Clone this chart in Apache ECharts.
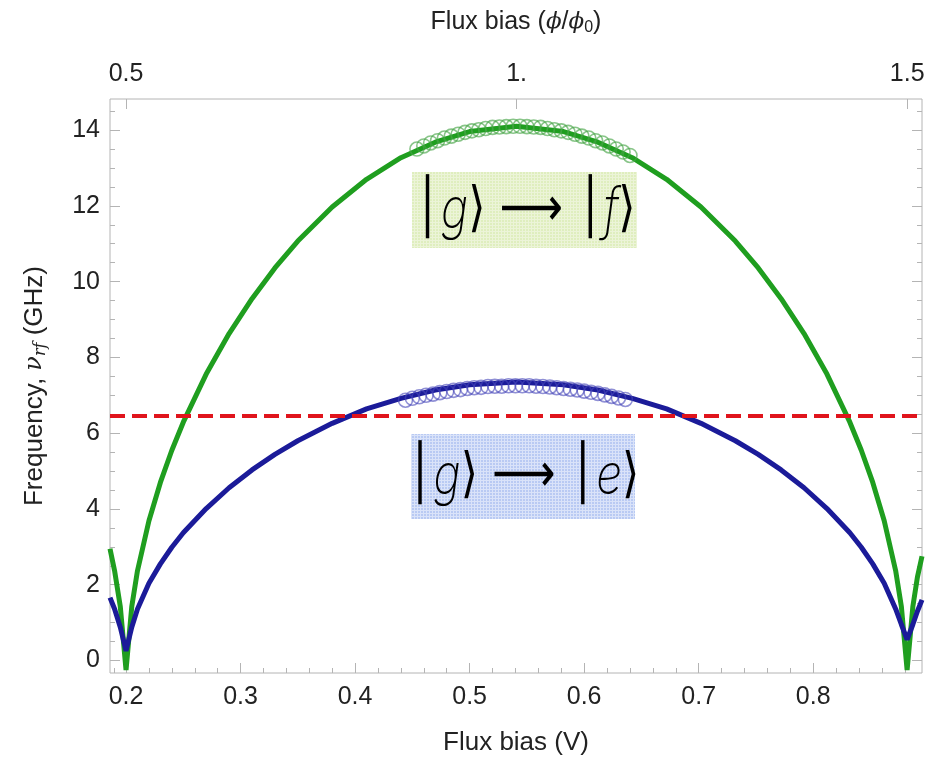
<!DOCTYPE html>
<html>
<head>
<meta charset="utf-8">
<script src="https://cdn.jsdelivr.net/npm/echarts@6/dist/echarts.min.js"></script>
<style>
  html, body { margin: 0; padding: 0; background: #fff; }
  #chart { width: 942px; height: 762px; }
</style>
</head>
<body>
<div id="chart"></div>
<script>
// flux bias (V) sample points for the two model curves
const fluxV = [0.186, 0.19, 0.195, 0.2, 0.205, 0.21, 0.22, 0.23, 0.24, 0.25, 0.27, 0.29, 0.31, 0.33, 0.35,
  0.38, 0.41, 0.44, 0.47, 0.50, 0.541, 0.582, 0.612, 0.642, 0.672, 0.702, 0.732, 0.752, 0.772, 0.792,
  0.812, 0.832, 0.842, 0.852, 0.862, 0.872, 0.877, 0.882, 0.887, 0.891, 0.895];
// |g> -> |f> (GHz)
const gfCurve = [2.95, 2.37, 1.42, -0.25, 1.42, 2.37, 3.69, 4.70, 5.55, 6.29, 7.56, 8.63, 9.55, 10.36, 11.07,
  11.97, 12.70, 13.27, 13.68, 13.96, 14.10, 13.96, 13.68, 13.27, 12.70, 11.97, 11.07, 10.36, 9.55, 8.63,
  7.56, 6.29, 5.55, 4.70, 3.69, 2.37, 1.42, -0.25, 1.42, 2.2, 2.75];
// |g> -> |e> (GHz)
const geCurve = [1.66, 1.36, 0.88, 0.25, 0.88, 1.36, 2.04, 2.55, 2.99, 3.37, 4.01, 4.56, 5.03, 5.44, 5.80,
  6.26, 6.64, 6.92, 7.14, 7.28, 7.35, 7.28, 7.14, 6.92, 6.64, 6.26, 5.80, 5.44, 5.03, 4.56,
  4.01, 3.37, 2.99, 2.55, 2.04, 1.36, 0.95, 0.55, 0.95, 1.3, 1.6];

// measured points (open circles)
const gfMeasV = [0.454, 0.460, 0.466, 0.472, 0.478, 0.484, 0.490, 0.496, 0.502, 0.508, 0.514, 0.520, 0.526,
  0.532, 0.538, 0.544, 0.550, 0.556, 0.562, 0.568, 0.574, 0.580, 0.586, 0.592, 0.598, 0.604, 0.610,
  0.616, 0.622, 0.628, 0.634, 0.640];
const gfMeas = [13.50, 13.58, 13.66, 13.72, 13.79, 13.84, 13.89, 13.94, 13.98, 14.01, 14.04, 14.07, 14.08,
  14.09, 14.10, 14.10, 14.09, 14.08, 14.07, 14.04, 14.01, 13.98, 13.94, 13.89, 13.84, 13.79, 13.72,
  13.66, 13.58, 13.50, 13.42, 13.33];
const geMeasV = [0.444, 0.450, 0.456, 0.462, 0.468, 0.474, 0.480, 0.486, 0.492, 0.498, 0.504, 0.510, 0.516,
  0.522, 0.528, 0.534, 0.540, 0.546, 0.552, 0.558, 0.564, 0.570, 0.576, 0.582, 0.588, 0.594, 0.600,
  0.606, 0.612, 0.618, 0.624, 0.630, 0.636];
const geMeas = [6.87, 6.92, 6.96, 7.00, 7.03, 7.07, 7.10, 7.13, 7.15, 7.18, 7.20, 7.21, 7.23,
  7.24, 7.24, 7.25, 7.25, 7.25, 7.25, 7.24, 7.23, 7.22, 7.20, 7.18, 7.16, 7.14, 7.11,
  7.08, 7.05, 7.01, 6.97, 6.93, 6.89];

const drivePumpGHz = 6.45;

// axis ticks
const xMajor = [0.2, 0.3, 0.4, 0.5, 0.6, 0.7, 0.8];
const xMinor = [0.19, 0.22, 0.24, 0.26, 0.28, 0.32, 0.34, 0.36, 0.38, 0.42, 0.44, 0.46, 0.48, 0.52, 0.54, 0.56,
  0.58, 0.62, 0.64, 0.66, 0.68, 0.72, 0.74, 0.76, 0.78, 0.82, 0.84, 0.86, 0.88];
const phiMajor = [0.5, 1, 1.5];
const yMajor = [0, 2, 4, 6, 8, 10, 12, 14];
const yMinor = [0.5, 1, 1.5, 2.5, 3, 3.5, 4.5, 5, 5.5, 6.5, 7, 7.5, 8.5, 9, 9.5, 10.5, 11, 11.5,
  12.5, 13, 13.5, 14.5];

const X_MIN = 0.186, X_MAX = 0.895;
const PHI_MIN = 0.4795, PHI_MAX = 1.519;
const Y_MIN = -0.33, Y_MAX = 14.82;

const FRAME = '#b4b4b4';
const FONT = 'Liberation Sans';

const pair = (xs, ys) => xs.map((x, i) => [x, ys[i]]);

function pattern(base, line) {
  const c = document.createElement('canvas');
  c.width = 3; c.height = 3;
  const g = c.getContext('2d');
  g.fillStyle = base; g.fillRect(0, 0, 3, 3);
  g.fillStyle = line; g.fillRect(0, 0, 3, 1); g.fillRect(0, 0, 1, 3);
  return { image: c, repeat: 'repeat' };
}

const tickAxis = (pos, min, max, values, len, extra) => Object.assign({
  type: 'value', position: pos, min: min, max: max,
  axisLine: { show: false, onZero: false },
  splitLine: { show: false },
  axisTick: { show: true, inside: true, length: len, customValues: values, lineStyle: { color: FRAME, width: 1 } },
  axisLabel: { show: false }
}, extra || {});

const chart = echarts.init(document.getElementById('chart'));

// ket labels: thin glyphs, brackets from DejaVu
const ketRich = {
  n: { fontFamily: 'DejaVu Sans', fontSize: 54, color: '#333' },
  it: { fontFamily: 'Inter', fontSize: 56, fontStyle: 'italic', fontWeight: 200, color: '#111' }
};

chart.setOption({
  animation: false,
  backgroundColor: '#fff',
  grid: { left: 110, right: 20, top: 99, bottom: 89, show: true, borderColor: FRAME, borderWidth: 1 },
  xAxis: [
    tickAxis('bottom', X_MIN, X_MAX, xMajor, 10, {
      axisLabel: { show: true, customValues: xMajor, margin: 12, fontFamily: FONT, fontSize: 25, color: '#222' },
      name: 'Flux bias (V)', nameLocation: 'middle', nameGap: 57,
      nameTextStyle: { fontFamily: FONT, fontSize: 26, color: '#222' }
    }),
    tickAxis('top', PHI_MIN, PHI_MAX, phiMajor, 10, {
      axisLabel: {
        show: true, customValues: phiMajor, margin: 12, fontFamily: FONT, fontSize: 25, color: '#222',
        formatter: v => (v === 1 ? '1.' : String(v))
      },
      name: '{a|Flux bias (}{i|ϕ}{a|/}{i|ϕ}{s|0}{a|)}', nameLocation: 'middle', nameGap: 62,
      nameTextStyle: {
        rich: {
          a: { fontFamily: FONT, fontSize: 25, color: '#222', lineHeight: 30 },
          i: { fontFamily: 'DejaVu Serif', fontStyle: 'italic', fontSize: 23, color: '#222', lineHeight: 30 },
          s: { fontFamily: FONT, fontSize: 16, color: '#222', lineHeight: 30, padding: [12, 0, 0, 0] }
        }
      }
    }),
    tickAxis('bottom', X_MIN, X_MAX, xMinor, 5)
  ],
  yAxis: [
    tickAxis('left', Y_MIN, Y_MAX, yMajor, 10, {
      axisLabel: { show: true, customValues: yMajor, margin: 10, fontFamily: FONT, fontSize: 25, color: '#222' },
      name: '{a|Frequency, }{i|ν}{s|rf}{a| (GHz)}', nameLocation: 'middle', nameGap: 60,
      nameTextStyle: {
        rich: {
          a: { fontFamily: FONT, fontSize: 26, color: '#222', lineHeight: 30 },
          i: { fontFamily: 'DejaVu Serif', fontStyle: 'italic', fontSize: 24, color: '#222', lineHeight: 30 },
          s: { fontFamily: 'DejaVu Serif', fontStyle: 'italic', fontSize: 16, color: '#222', lineHeight: 30, padding: [12, 0, 0, 0] }
        }
      }
    }),
    tickAxis('left', Y_MIN, Y_MAX, yMinor, 5),
    tickAxis('right', Y_MIN, Y_MAX, yMajor, 10),
    tickAxis('right', Y_MIN, Y_MAX, yMinor, 5)
  ],
  graphic: [
    { type: 'rect', shape: { x: 412, y: 172, width: 225, height: 76 }, z: 1,
      style: { fill: pattern('#dfeebe', '#ecf4d8') } },
    { type: 'rect', shape: { x: 411, y: 434, width: 224, height: 85 }, z: 1,
      style: { fill: pattern('#b9caf3', '#dae3f9') } },
    { type: 'text', x: 525, y: 211, z: 2, scaleX: 0.82,
      style: { text: '{n|\u2502}{it|g}{n|\u27E9 \u27F6 \u2502}{it|f}{n|\u27E9}', rich: ketRich, align: 'center', verticalAlign: 'middle' } },
    { type: 'text', x: 523, y: 477, z: 2, scaleX: 0.82,
      style: { text: '{n|\u2502}{it|g}{n|\u27E9 \u27F6 \u2502}{it|e}{n|\u27E9}', rich: ketRich, align: 'center', verticalAlign: 'middle' } }
  ],
  series: [
    {
      type: 'line', data: pair(fluxV, gfCurve), showSymbol: false, z: 3,
      lineStyle: { color: '#1f9e1f', width: 5 }
    },
    {
      type: 'line', data: pair(fluxV, geCurve), showSymbol: false, z: 3,
      lineStyle: { color: '#1b1b99', width: 5 },
      markLine: {
        silent: true, symbol: 'none', label: { show: false },
        lineStyle: { color: '#e0141c', width: 4, type: [15, 7] },
        data: [{ yAxis: drivePumpGHz }]
      }
    },
    {
      type: 'scatter', data: pair(gfMeasV, gfMeas), symbol: 'circle', symbolSize: 14, z: 4,
      itemStyle: { color: 'rgba(0,0,0,0)', borderColor: 'rgba(70,165,70,0.8)', borderWidth: 1.6 }
    },
    {
      type: 'scatter', data: pair(geMeasV, geMeas), symbol: 'circle', symbolSize: 14, z: 4,
      itemStyle: { color: 'rgba(0,0,0,0)', borderColor: 'rgba(70,70,185,0.75)', borderWidth: 1.6 }
    }
  ]
});
</script>
</body>
</html>
